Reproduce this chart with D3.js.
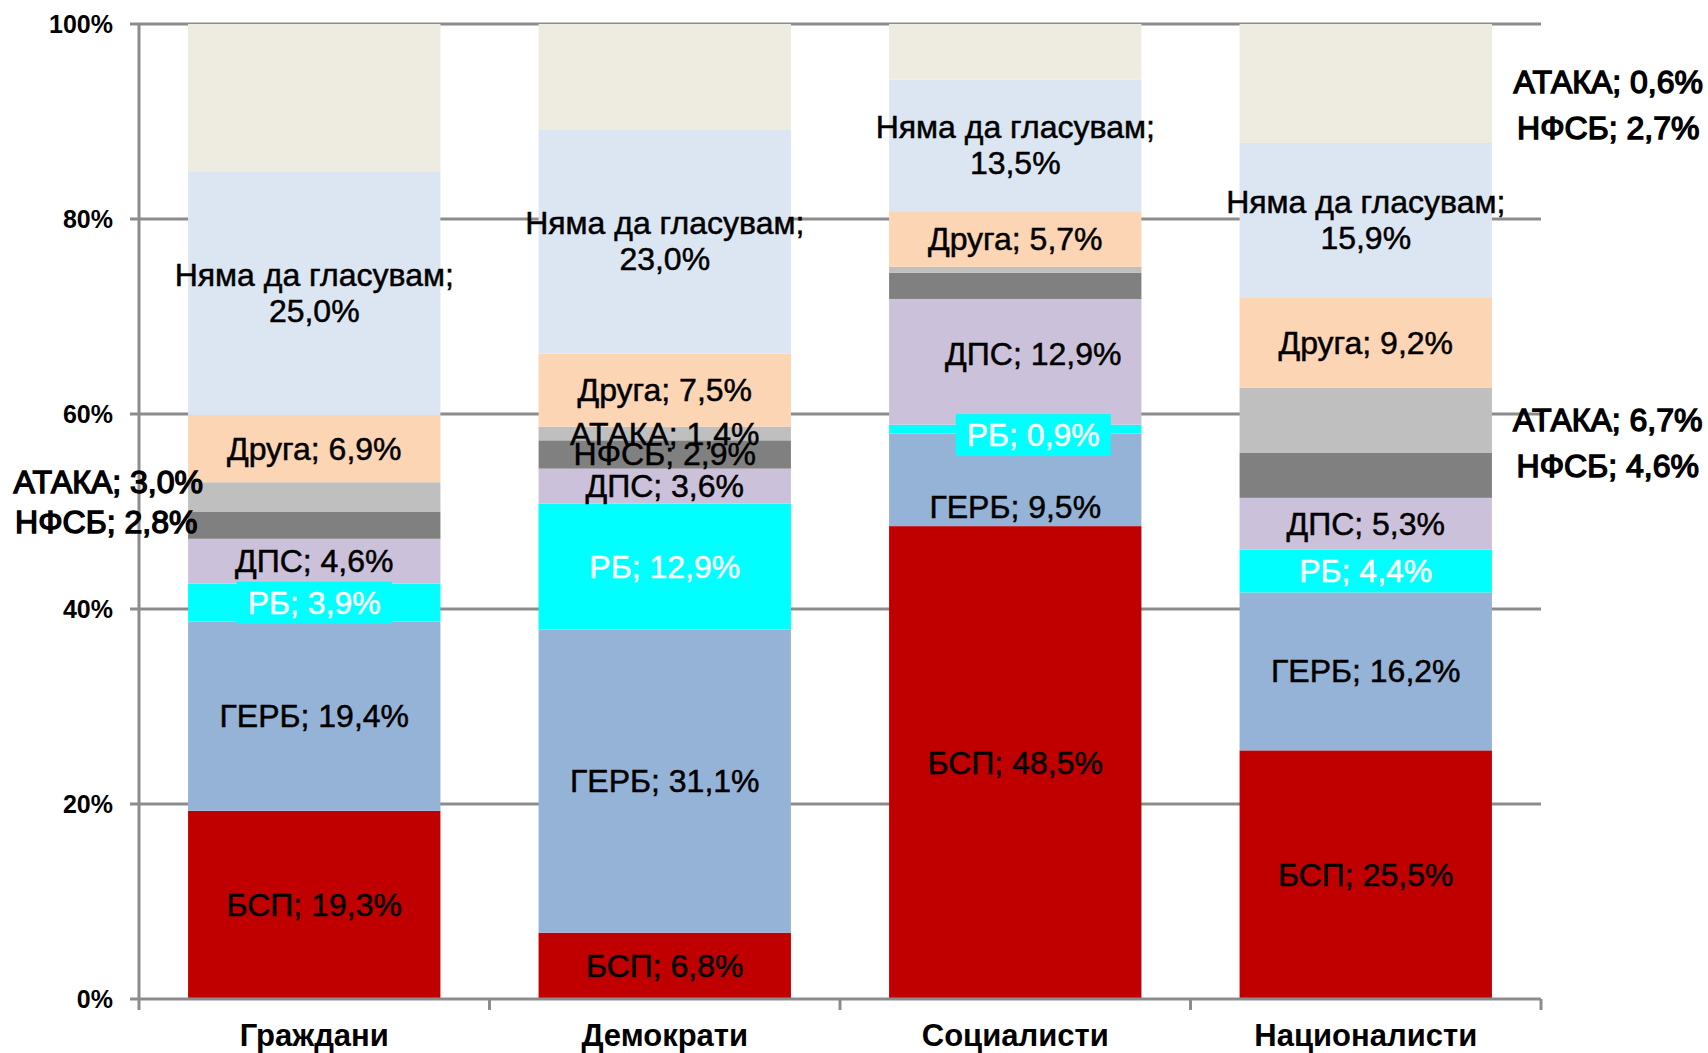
<!DOCTYPE html>
<html>
<head>
<meta charset="utf-8">
<script src="https://cdn.jsdelivr.net/npm/d3@7"></script>
<style>
  body { margin: 0; background: #fff; }
  text { font-family: "Liberation Sans", Arial, sans-serif; }
</style>
</head>
<body>
<svg id="chart" width="1708" height="1053"></svg>
<script>
// --- data (percent of each group) ---
const categories = ["Граждани", "Демократи", "Социалисти", "Националисти"];
const parties = ["БСП", "ГЕРБ", "РБ", "ДПС", "НФСБ", "АТАКА", "Друга", "Няма да гласувам", "Не знам"];
const bsp    = [19.3,  6.8, 48.5, 25.5];
const gerb   = [19.4, 31.1,  9.5, 16.2];
const rb     = [ 3.9, 12.9,  0.9,  4.4];
const dps    = [ 4.6,  3.6, 12.9,  5.3];
const nfsb   = [ 2.8,  2.9,  2.7,  4.6];
const ataka  = [ 3.0,  1.4,  0.6,  6.7];
const druga  = [ 6.9,  7.5,  5.7,  9.2];
const nyama  = [25.0, 23.0, 13.5, 15.9];
const neznam = [15.1, 10.8,  5.7, 12.2];
const yTicks = [0, 20, 40, 60, 80, 100];

const seriesValues = [bsp, gerb, rb, dps, nfsb, ataka, druga, nyama, neznam];
const colors = ["#C00000", "#95B3D7", "#00FFFF", "#CCC1DA", "#808080", "#BFBFBF", "#FCD5B5", "#DCE6F2", "#EEECE1"];

// label tweaks (px offsets from segment centre), like the hand-moved labels in the original
const labelMoves = {
  "Граждани|АТАКА": { dx: -206, dy: -15, outside: true },
  "Граждани|НФСБ": { dx: -208, dy: -3, outside: true },
  "Социалисти|АТАКА": { dx: 593, dy: -188, outside: true },
  "Социалисти|НФСБ": { dx: 593, dy: -158, outside: true },
  "Социалисти|РБ": { dx: 18, dy: 6 },
  "Социалисти|ГЕРБ": { dx: 0, dy: 27 },
  "Социалисти|ДПС": { dx: 18, dy: -8 },
  "Националисти|АТАКА": { dx: 242, dy: 0, outside: true },
  "Националисти|НФСБ": { dx: 242, dy: -9, outside: true }
};

const table = categories.map((c, i) => {
  const row = { cat: c };
  parties.forEach((p, j) => row[p] = seriesValues[j][i]);
  return row;
});

const svg = d3.select("#chart");
const plotLeft = 139, plotRight = 1541, plotTop = 24, plotBottom = 999;

const x = d3.scaleBand().domain(categories).range([plotLeft, plotRight])
  .paddingInner(0.28).paddingOuter(0.14);
const y = d3.scaleLinear().domain([0, 100]).range([plotBottom, plotTop]);

const stacked = d3.stack().keys(parties)(table);

// gridlines
svg.append("g").selectAll("line").data(yTicks.filter(d => d > 0)).enter().append("line")
  .attr("x1", plotLeft - 9).attr("x2", plotRight)
  .attr("y1", d => y(d)).attr("y2", d => y(d))
  .attr("stroke", "#8C8C8C").attr("stroke-width", 3);

// bars
const layers = svg.append("g").selectAll("g").data(stacked).enter().append("g")
  .attr("fill", (d, i) => colors[i]);
layers.selectAll("rect").data(d => d).enter().append("rect")
  .attr("x", d => x(d.data.cat))
  .attr("width", x.bandwidth())
  .attr("y", d => y(d[1]))
  .attr("height", d => y(d[0]) - y(d[1]));

// axes
svg.append("line").attr("x1", plotLeft).attr("x2", plotLeft).attr("y1", plotTop).attr("y2", plotBottom + 1)
  .attr("stroke", "#8C8C8C").attr("stroke-width", 3);
svg.append("line").attr("x1", plotLeft - 9).attr("x2", plotRight).attr("y1", plotBottom).attr("y2", plotBottom)
  .attr("stroke", "#8C8C8C").attr("stroke-width", 3);
const step = x.step();
svg.append("g").selectAll("line").data(d3.range(categories.length + 1)).enter().append("line")
  .attr("x1", i => plotLeft + i * step).attr("x2", i => plotLeft + i * step)
  .attr("y1", plotBottom).attr("y2", plotBottom + 11)
  .attr("stroke", "#8C8C8C").attr("stroke-width", 3);

svg.append("g").selectAll("text").data(yTicks).enter().append("text")
  .attr("x", 113).attr("y", d => y(d) + 9)
  .attr("text-anchor", "end")
  .style("font-size", "25px").style("font-weight", "bold")
  .text(d => d + "%");

svg.append("g").selectAll("text").data(categories).enter().append("text")
  .attr("x", d => x(d) + x.bandwidth() / 2).attr("y", 1046)
  .attr("text-anchor", "middle")
  .style("font-size", "31px").style("font-weight", "bold")
  .text(d => d);

// data labels
const fmt = v => v.toFixed(1).replace(".", ",") + "%";
const labels = svg.append("g");
stacked.forEach((layer, li) => {
  const party = parties[li];
  if (party === "Не знам") return;
  layer.forEach(d => {
    const cat = d.data.cat;
    const mv = labelMoves[cat + "|" + party] || { dx: 0, dy: 0 };
    const cx = x(cat) + x.bandwidth() / 2 + mv.dx;
    const cy = (y(d[0]) + y(d[1])) / 2 + mv.dy;
    const value = d[1] - d[0];
    const white = party === "РБ";
    const ink = white ? "#fff" : "#000";
    const t = labels.append("text")
      .attr("text-anchor", "middle")
      .style("font-size", "32px")
      .attr("fill", ink)
      .attr("stroke", ink)
      .attr("stroke-width", mv.outside ? 1.4 : 0.5);
    if (party === "Няма да гласувам") {
      t.append("tspan").attr("x", cx).attr("y", cy - 18 + 11).text(party + ";");
      t.append("tspan").attr("x", cx).attr("y", cy + 18 + 11).text(fmt(value));
    } else {
      t.attr("x", cx).attr("y", cy + 11).text(party + "; " + fmt(value));
    }
    if (white) {
      const w = t.node().getComputedTextLength() + 22;
      labels.insert("rect", () => t.node())
        .attr("x", cx - w / 2).attr("y", cy - 21)
        .attr("width", w).attr("height", 42)
        .attr("fill", "#00FFFF");
    }
  });
});
</script>
</body>
</html>
